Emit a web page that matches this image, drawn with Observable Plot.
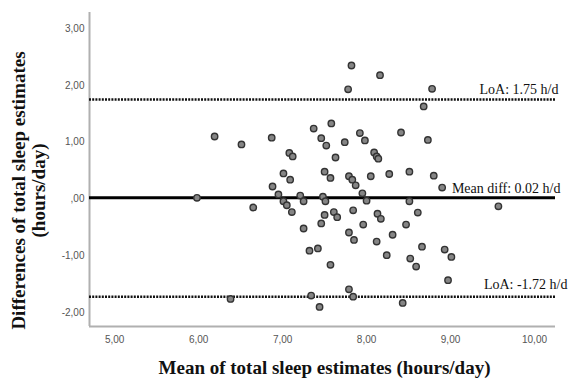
<!DOCTYPE html>
<html>
<head>
<meta charset="utf-8">
<script src="https://cdn.jsdelivr.net/npm/d3@7"></script>
<script src="https://cdn.jsdelivr.net/npm/@observablehq/plot@0.6"></script>
<style>
  html, body { margin: 0; padding: 0; background: #fff; }
  #chart svg { display: block; }
</style>
</head>
<body>
<div id="chart"></div>
<script>
// Mean of the two sleep estimates (hours/day)
const meanSleep = [6.19,6.51,6.87,7.08,7.12,7.01,7.09,7.82,8.16,7.78,8.78,8.68,7.37,7.58,7.46,7.52,7.92,7.98,7.74,8.41,8.73,7.63,8.09,8.12,8.14,7.50,7.57,7.79,7.83,7.87,8.05,8.27,8.51,8.80,8.90,7.21,7.25,7.48,7.51,7.95,8.00,8.51,7.50,7.61,7.65,7.84,8.13,8.17,8.61,7.25,7.46,7.96,8.47,7.79,7.85,8.31,8.12,7.32,7.42,8.66,8.93,9.01,8.24,8.52,8.59,7.57,8.97,7.79,7.34,7.84,7.44,8.43,5.98,6.88,6.95,7.01,7.05,7.11,6.65,6.38,9.57];
// Difference of the two sleep estimates (hours/day)
const diffSleep = [1.10,0.96,1.08,0.81,0.75,0.45,0.34,2.35,2.18,1.93,1.94,1.63,1.24,1.33,1.07,0.94,1.16,1.03,1.00,1.17,1.04,0.73,0.82,0.75,0.71,0.48,0.37,0.40,0.34,0.24,0.40,0.44,0.48,0.41,0.20,0.06,-0.04,0.04,-0.04,0.10,-0.03,-0.04,-0.28,-0.23,-0.32,-0.20,-0.26,-0.35,-0.24,-0.52,-0.43,-0.45,-0.45,-0.59,-0.72,-0.63,-0.75,-0.91,-0.87,-0.84,-0.89,-1.02,-0.99,-1.05,-1.19,-1.16,-1.43,-1.59,-1.70,-1.72,-1.90,-1.83,0.02,0.22,0.08,-0.04,-0.11,-0.23,-0.15,-1.76,-0.13];

const meanDiff = [0.02];
const upperLoA = [1.75];
const lowerLoA = [-1.72];
const meanLabel = ["Mean diff: 0.02 h/d"];
const upperLabel = ["LoA: 1.75 h/d"];
const lowerLabel = ["LoA: -1.72 h/d"];

const xTicks = [5, 6, 7, 8, 9, 10];
const yTicks = [-2, -1, 0, 1, 2, 3];
const xDomain = [4.70, 10.25];
const yDomain = [-2.245, 3.283];

const xTitle = "Mean of total sleep estimates (hours/day)";
const yTitle = "Differences of total sleep estimates\n(hours/day)";

const points = meanSleep.map((m, i) => ({m, d: diffSleep[i]}));
const fmt = v => v === 0 ? ",00" : v.toFixed(2).replace(".", ",");

const serif = "'Liberation Serif', 'Times New Roman', serif";
const sans = "'Liberation Sans', Arial, sans-serif";
const labelStyle = {frameAnchor: "right", textAnchor: "end", fontFamily: serif, fontSize: 14, fill: "#111"};

const chart = Plot.plot({
  width: 568,
  height: 379,
  marginLeft: 89,
  marginRight: 13,
  marginTop: 12,
  marginBottom: 53,
  style: {fontFamily: sans, background: "#fff"},
  x: {domain: xDomain, ticks: xTicks, tickFormat: fmt, label: null},
  y: {domain: yDomain, ticks: yTicks, tickFormat: fmt, label: null},
  marks: [
    Plot.axisX({ticks: xTicks, tickFormat: fmt, tickSize: 0, tickPadding: 9, fontSize: 10, color: "#555", label: null}),
    Plot.axisY({ticks: yTicks, tickFormat: fmt, tickSize: 0, tickPadding: 5, fontSize: 10, color: "#555", label: null}),
    Plot.ruleX([xDomain[0]], {stroke: "#b0b0b0", strokeWidth: 2}),
    Plot.ruleY([yDomain[0]], {stroke: "#b0b0b0", strokeWidth: 2}),
    Plot.ruleY(upperLoA, {stroke: "#111", strokeWidth: 2.5, strokeDasharray: "2,1.2"}),
    Plot.ruleY(lowerLoA, {stroke: "#111", strokeWidth: 2.5, strokeDasharray: "2,1.2"}),
    Plot.ruleY(meanDiff, {stroke: "#000", strokeWidth: 3}),
    Plot.dot(points, {x: "m", y: "d", r: 3.2, fill: "#858585", stroke: "#333", strokeWidth: 1.4}),
    Plot.text(upperLabel, {...labelStyle, y: upperLoA, dx: 3, dy: -10}),
    Plot.text(meanLabel, {...labelStyle, y: meanDiff, dx: 5, dy: -9}),
    Plot.text(lowerLabel, {...labelStyle, y: lowerLoA, dx: 12, dy: -12}),
    Plot.text([xTitle], {
      frameAnchor: "bottom", dy: 41, dx: 2, lineAnchor: "middle",
      fontFamily: serif, fontWeight: "bold", fontSize: 19, fill: "#111"
    }),
    Plot.text([yTitle], {
      frameAnchor: "left", rotate: -90, dx: -61, dy: 21, textAnchor: "middle", lineAnchor: "middle", lineHeight: 1.07,
      fontFamily: serif, fontWeight: "bold", fontSize: 19, fill: "#111"
    })
  ]
});
document.getElementById("chart").appendChild(chart);
</script>
</body>
</html>
